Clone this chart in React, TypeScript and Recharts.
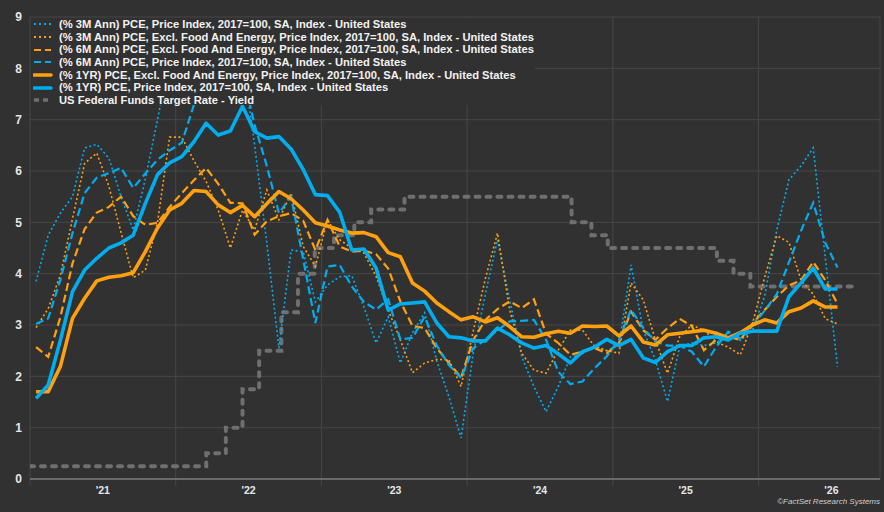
import React from 'react';
import { LineChart, Line, XAxis, YAxis, CartesianGrid, ReferenceLine } from 'recharts';

// Months Jan 2021 .. Jul 2026
const monthCount = 67;
const months: string[] = Array.from({ length: monthCount }, (_, i) => {
  const y = 2021 + Math.floor(i / 12);
  const m = (i % 12) + 1;
  return `${y}-${String(m).padStart(2, '0')}`;
});

const pce3m = [
  3.85, 4.75, 5.18, 5.5, 6.45, 6.52, 6.25, 5.5, 4.85, 5.85, 7.0, 8.2,
  8.0, 8.4, 8.8, 8.0, 8.6, 8.2, 6.5, 4.6, 2.55, 4.46, 4.43, 3.45,
  3.78, 3.94, 3.96, 3.35, 2.65, 3.16, 2.26, 2.85, 3.24, 2.3, 1.6, 0.8,
  2.45, 3.6, 4.66, 3.49, 2.38, 1.8, 1.31, 1.8, 2.38, 2.44, 2.6, 2.5,
  2.6, 4.17, 2.9, 2.32, 1.51, 2.58, 2.65, 2.6, 2.65, 2.85, 2.7, 2.9,
  3.56, 4.85, 5.83, 6.1, 6.45, 4.3, 2.19,
];
const core3m = [
  2.95, 3.32, 3.97, 5.07, 6.15, 6.35, 5.7, 4.8, 3.92, 4.07, 5.0, 6.66,
  6.66, 6.2, 5.8, 5.24, 4.5, 5.24, 4.85, 5.63, 5.05, 5.57, 4.53, 4.14,
  5.05, 4.66, 4.5, 4.4, 3.95, 3.29, 2.71, 2.07, 2.26, 2.33, 2.32, 1.8,
  2.88, 3.9, 4.79, 3.29, 2.45, 2.12, 2.06, 2.51, 2.9, 2.9, 2.58, 2.5,
  2.45, 3.82, 3.49, 2.71, 2.06, 2.77, 3.0, 2.9, 2.67, 2.57, 2.42, 3.03,
  3.93, 4.74, 4.61, 3.87, 3.6, 3.12, 3.02,
];
const core6m = [
  2.57, 2.38, 3.15, 4.2, 4.87, 5.19, 5.3, 5.5, 5.12, 4.95, 4.99, 5.3,
  5.57, 5.82, 6.06, 5.75, 5.38, 5.37, 4.76, 5.02, 5.12, 5.18, 5.03, 4.46,
  5.05, 4.53, 4.43, 4.45, 4.38, 4.1, 3.46, 2.98, 2.94, 2.55, 2.26, 1.98,
  2.71, 3.1, 3.31, 3.46, 3.33, 3.5, 2.83, 2.65, 2.42, 2.48, 2.55, 2.45,
  2.65, 3.26, 2.9, 2.71, 2.94, 3.12, 2.98, 2.51, 2.71, 2.77, 2.71, 3.03,
  3.29, 3.55, 3.77, 3.87, 4.23, 3.87, 3.41,
];
const pce6m = [
  3.02, 3.13, 3.88, 4.79, 5.57, 5.87, 5.96, 6.06, 5.67, 5.95, 6.22, 6.4,
  6.55, 7.29, 7.9, 8.0, 7.9, 7.9, 6.9, 6.1, 5.18, 5.5, 4.28, 3.04,
  4.14, 4.17, 3.75, 3.45, 3.3, 3.5, 2.72, 2.75, 3.16, 2.6, 2.22, 1.97,
  2.55, 2.71, 2.9, 3.07, 3.08, 3.1, 2.71, 2.09, 1.85, 1.9, 2.16, 2.39,
  2.71, 3.3, 2.94, 2.68, 2.6, 2.6, 2.48, 2.19, 2.57, 2.87, 2.74, 2.99,
  3.28, 3.6, 4.22, 4.84, 5.38, 4.6, 4.12,
];
const core1y = [
  1.7, 1.7, 2.19, 3.13, 3.52, 3.86, 3.93, 3.96, 4.02, 4.43, 4.89, 5.24,
  5.37, 5.62, 5.6, 5.34, 5.19, 5.33, 5.11, 5.36, 5.6, 5.46, 5.24, 4.99,
  4.93, 4.85, 4.79, 4.8, 4.72, 4.41, 4.33, 3.82, 3.66, 3.43, 3.26, 3.1,
  3.16, 3.06, 3.14, 2.97, 2.77, 2.76, 2.83, 2.88, 2.84, 2.98, 2.97, 2.98,
  2.79, 2.98, 2.67, 2.61, 2.81, 2.84, 2.87, 2.9, 2.84, 2.75, 2.85, 3.0,
  3.1, 3.04, 3.26, 3.33, 3.47, 3.35, 3.35,
];
const pce1y = [
  1.57, 1.83, 2.7, 3.65, 4.07, 4.3, 4.5, 4.6, 4.75, 5.37, 5.93, 6.16,
  6.28, 6.57, 6.93, 6.7, 6.78, 7.26, 6.77, 6.64, 6.67, 6.43, 6.03, 5.54,
  5.52, 5.2, 4.46, 4.48, 4.11, 3.29, 3.41, 3.43, 3.45, 3.04, 2.77, 2.75,
  2.69, 2.69, 2.94, 2.81, 2.65, 2.55, 2.6, 2.44, 2.26, 2.48, 2.57, 2.72,
  2.6, 2.72, 2.36, 2.27, 2.48, 2.6, 2.6, 2.75, 2.77, 2.71, 2.84, 2.88,
  2.88, 2.88, 3.55, 3.82, 4.11, 3.7, 3.7,
];

const fedDates = [
  '2021-01-01', '2022-03-17', '2022-05-05', '2022-06-16', '2022-07-28', '2022-09-22',
  '2022-11-03', '2022-12-15', '2023-02-02', '2023-03-23', '2023-05-04', '2023-07-27',
  '2024-09-19', '2024-11-08', '2024-12-19', '2025-09-18', '2025-10-30', '2025-12-11',
  '2026-08-28',
];
const fedRates = [
  0.25, 0.5, 1.0, 1.75, 2.5, 3.25, 4.0, 4.5, 4.75, 5.0, 5.25, 5.5,
  5.0, 4.75, 4.5, 4.25, 4.0, 3.75, 3.75,
];

const yearLabels = ["'21", "'22", "'23", "'24", "'25", "'26"];
const yTicks = [0, 1, 2, 3, 4, 5, 6, 7, 8, 9];

const BG = '#313131';
const GRID = '#474747';
const BLUE = '#00aeef';
const ORANGE = '#ffa00f';
const GRAY = '#6f6f6f';
const FONT = '"Liberation Sans", Arial, Helvetica, sans-serif';

const DOMAIN_END = 70; // months after Jan 2021 at right edge
const yearCenters = yearLabels.map((_, i) => i * 12 + 6);
const yearBounds = [0, 12, 24, 36, 48, 60];

function dateToT(d: string): number {
  const [y, m, day] = d.split('-').map(Number);
  const dim = new Date(y, m, 0).getDate();
  return (y - 2021) * 12 + (m - 1) + (day - 1) / dim;
}

const data = months.map((mo, i) => ({
  month: mo,
  t: i + 0.5,
  pce3m: pce3m[i],
  core3m: core3m[i],
  core6m: core6m[i],
  pce6m: pce6m[i],
  core1y: core1y[i],
  pce1y: pce1y[i],
}));

const fedData = fedDates.map((d, i) => ({ t: dateToT(d), fed: fedRates[i] }));

type LegendItem = { label: string; color: string; kind: 'dot' | 'dash' | 'solid' | 'fed' };
const legendItems: LegendItem[] = [
  { label: '(% 3M Ann) PCE, Price Index, 2017=100, SA, Index - United States', color: BLUE, kind: 'dot' },
  { label: '(% 3M Ann) PCE, Excl. Food And Energy, Price Index, 2017=100, SA, Index - United States', color: ORANGE, kind: 'dot' },
  { label: '(% 6M Ann) PCE, Excl. Food And Energy, Price Index, 2017=100, SA, Index - United States', color: ORANGE, kind: 'dash' },
  { label: '(% 6M Ann) PCE, Price Index, 2017=100, SA, Index - United States', color: BLUE, kind: 'dash' },
  { label: '(% 1YR) PCE, Excl. Food And Energy, Price Index, 2017=100, SA, Index - United States', color: ORANGE, kind: 'solid' },
  { label: '(% 1YR) PCE, Price Index, 2017=100, SA, Index - United States', color: BLUE, kind: 'solid' },
  { label: 'US Federal Funds Target Rate - Yield', color: GRAY, kind: 'fed' },
];

function Swatch({ item }: { item: LegendItem }) {
  const common = { x1: 1, x2: 18, y1: 3, y2: 3, stroke: item.color };
  let props: any = {};
  if (item.kind === 'dot') props = { strokeWidth: 1.8, strokeDasharray: '2 3' };
  if (item.kind === 'dash') props = { strokeWidth: 2.2, strokeDasharray: '7 4' };
  if (item.kind === 'solid') props = { strokeWidth: 3.6, strokeLinecap: 'round' };
  if (item.kind === 'fed') props = { strokeWidth: 3.6, strokeDasharray: '5 4' };
  return (
    <svg width={20} height={6} style={{ display: 'block' }}>
      <line {...common} {...props} />
    </svg>
  );
}

function ChartLegend() {
  return (
    <div
      style={{
        position: 'absolute',
        left: 31,
        top: 18,
        width: 504,
        height: 87,
        background: BG,
        fontFamily: FONT,
        fontWeight: 700,
        fontSize: 11.2,
        color: '#f2f2f2',
        lineHeight: '12.7px',
      }}
    >
      {legendItems.map((it) => (
        <div key={it.label} style={{ display: 'flex', alignItems: 'center', height: 12.7, whiteSpace: 'nowrap' }}>
          <div style={{ width: 26, paddingLeft: 2 }}>
            <Swatch item={it} />
          </div>
          <span>{it.label}</span>
        </div>
      ))}
    </div>
  );
}

export default function App() {
  return (
    <div style={{ position: 'relative', width: 884, height: 512, background: BG, overflow: 'hidden' }}>
      <style>{`body{margin:0;background:${BG};}`}</style>
      <LineChart width={884} height={512} data={data} margin={{ top: 17, right: 4, bottom: 0, left: 0 }}>
        <CartesianGrid vertical={false} stroke={GRID} strokeWidth={1} />
        {yearBounds.map((b) => (
          <ReferenceLine
            key={`vb${b}`}
            segment={[{ x: b, y: -0.13 }, { x: b, y: 9 }]}
            stroke={GRID}
            strokeWidth={1}
            ifOverflow="visible"
          />
        ))}
        <ReferenceLine
          segment={[{ x: DOMAIN_END, y: 0 }, { x: DOMAIN_END, y: 9 }]}
          stroke={GRID}
          strokeWidth={1}
          ifOverflow="visible"
        />
        <XAxis
          dataKey="t"
          type="number"
          domain={[0, DOMAIN_END]}
          ticks={yearCenters}
          tickFormatter={(v: number) => yearLabels[Math.round((v - 6) / 12)] ?? ''}
          interval={0}
          height={33}
          tickLine={false}
          axisLine={{ stroke: '#6a6a6a', strokeWidth: 2 }}
          tick={{ fill: '#e6e6e6', fontSize: 10.5, fontWeight: 700, fontFamily: FONT }}
          allowDataOverflow
        />
        <YAxis
          domain={[0, 9]}
          ticks={yTicks}
          interval={0}
          width={30}
          tickLine={false}
          axisLine={false}
          tick={{ fill: '#e6e6e6', fontSize: 12, fontWeight: 700, fontFamily: FONT }}
          allowDataOverflow
        />
        <Line
          data={fedData}
          dataKey="fed"
          type="stepAfter"
          stroke={GRAY}
          strokeWidth={4}
          strokeDasharray="4 7"
          strokeLinecap="round"
          dot={false}
          activeDot={false}
          isAnimationActive={false}
        />
        <Line dataKey="pce3m" type="linear" stroke={BLUE} strokeWidth={1.6} strokeDasharray="2 2.5" dot={false} activeDot={false} isAnimationActive={false} />
        <Line dataKey="core3m" type="linear" stroke={ORANGE} strokeWidth={1.6} strokeDasharray="2 2.5" dot={false} activeDot={false} isAnimationActive={false} />
        <Line dataKey="core6m" type="linear" stroke={ORANGE} strokeWidth={2.2} strokeDasharray="8 4" dot={false} activeDot={false} isAnimationActive={false} />
        <Line dataKey="pce6m" type="linear" stroke={BLUE} strokeWidth={2.2} strokeDasharray="8 4" dot={false} activeDot={false} isAnimationActive={false} />
        <Line dataKey="core1y" type="linear" stroke={ORANGE} strokeWidth={3.6} strokeLinejoin="round" dot={false} activeDot={false} isAnimationActive={false} />
        <Line dataKey="pce1y" type="linear" stroke={BLUE} strokeWidth={3.6} strokeLinejoin="round" dot={false} activeDot={false} isAnimationActive={false} />
      </LineChart>
      <ChartLegend />
      <div
        style={{
          position: 'absolute',
          right: 4,
          top: 497,
          fontFamily: FONT,
          fontStyle: 'italic',
          fontSize: 8,
          color: '#d0d0d0',
          whiteSpace: 'nowrap',
        }}
      >
        ©FactSet Research Systems
      </div>
    </div>
  );
}
